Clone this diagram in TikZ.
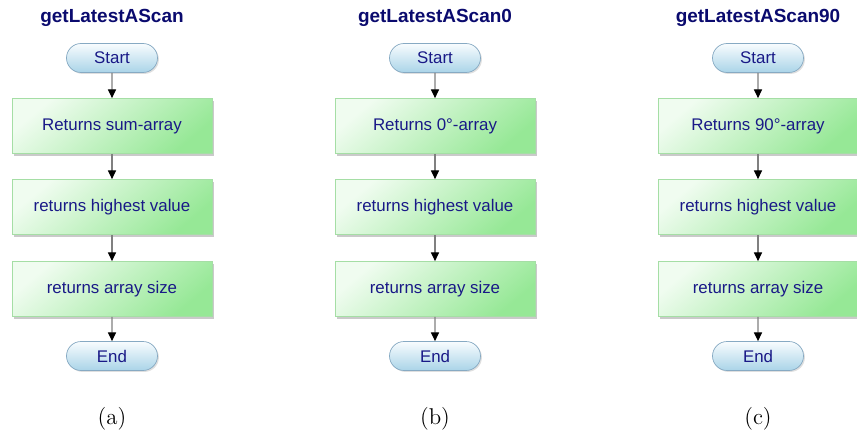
\documentclass[tikz,border=0pt]{standalone}
\usepackage{fontspec}
\setmainfont{Latin Modern Roman}
\newfontfamily\flowfont{Liberation Sans}
\usetikzlibrary{shapes.misc,shadows,arrows.meta}
\definecolor{flowtext}{RGB}{25,25,135}
\definecolor{titletext}{RGB}{10,10,110}
\definecolor{boxlight}{RGB}{240,252,240}
\definecolor{boxdark}{RGB}{150,232,150}
\definecolor{boxline}{RGB}{165,222,165}
\definecolor{pilllight}{RGB}{248,252,254}
\definecolor{pilldark}{RGB}{170,212,232}
\definecolor{pillline}{RGB}{135,170,195}
\tikzstyle{titel}=[font=\flowfont\bfseries\fontsize{10.8}{13}\selectfont,text=titletext]
\tikzstyle{stap}=[draw=boxline,top color=boxlight,bottom color=boxdark,shading angle=40,
  minimum width=200*0.02cm,minimum height=55*0.02cm,inner sep=0pt,
  font=\flowfont\fontsize{9.6}{12}\selectfont,text=flowtext,
  drop shadow={shadow xshift=1.2pt,shadow yshift=-1.2pt,fill=black!35,opacity=0.6}]
\tikzstyle{pil}=[rounded rectangle,draw=pillline,top color=pilllight,bottom color=pilldark,
  minimum width=91*0.02cm,minimum height=29*0.02cm,inner sep=0pt,
  font=\flowfont\fontsize{9.6}{12}\selectfont,text=flowtext,
  drop shadow={shadow xshift=0.8pt,shadow yshift=-0.8pt,fill=black!25,opacity=0.5}]
\tikzstyle{pijl}=[draw=black!50,line width=0.7pt,-{Triangle[black,length=5pt,width=4.6pt]}]
\tikzstyle{bijschrift}=[font=\fontsize{13}{15}\selectfont]

\begin{document}
\begin{tikzpicture}[x=0.02cm,y=-0.02cm]
    \useasboundingbox (0,0) rectangle (857,439);
    % one flow chart per scan direction
    \foreach \x/\n/\naam/\wat in {112/a/getLatestAScan/sum-array,
                                  435/b/getLatestAScan0/0°-array,
                                  758/c/getLatestAScan90/90°-array}{
        \node [titel] (titel\n) at (\x, 18) {\naam};
        \node [pil]  (start\n) at (\x, 58) {Start};
        \node [stap] (ret\n)   at (\x, 126) {Returns \wat};
        \node [stap] (hoog\n)  at (\x, 207) {returns highest value};
        \node [stap] (maat\n)  at (\x, 289) {returns array size};
        \node [pil]  (eind\n)  at (\x, 356) {End};
        \node [bijschrift] (cap\n) at (\x, 419) {(\n)};
        \draw [pijl] (start\n) -- (ret\n);
        \draw [pijl] (ret\n) -- (hoog\n);
        \draw [pijl] (hoog\n) -- (maat\n);
        \draw [pijl] (maat\n) -- (eind\n);
    }
\end{tikzpicture}
\end{document}
